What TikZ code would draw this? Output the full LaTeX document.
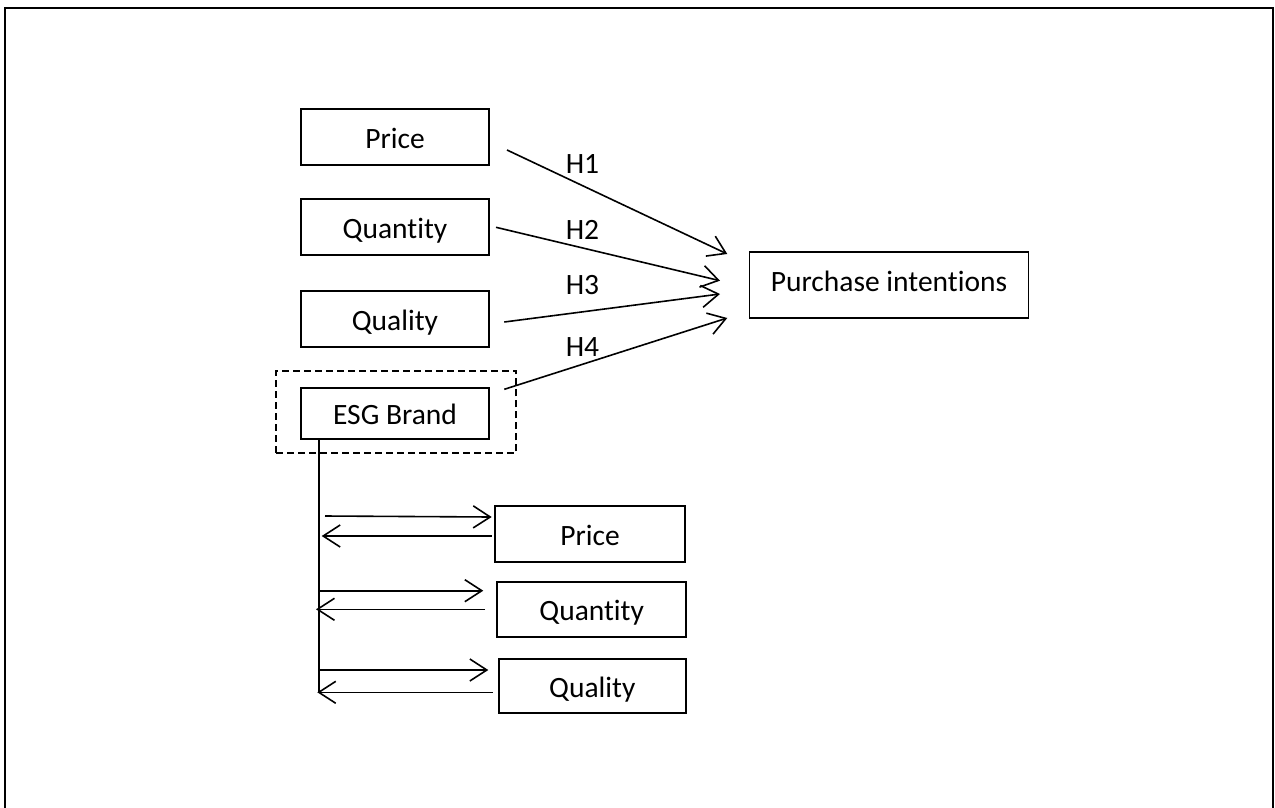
\documentclass[tikz,border=0pt]{standalone}
\usepackage{fontspec}
\setmainfont{Carlito}[Ligatures=NoCommon]
\usetikzlibrary{arrows.meta}
\begin{document}
\begin{tikzpicture}[x=1pt,y=-1pt,
  txt/.style={font=\fontsize{29.5}{35}\selectfont},
  box/.style={txt, draw, line width=1.8pt, minimum width=188pt, minimum height=56pt,
    inner sep=0pt, text height=22.6pt, text depth=0pt},
  link/.style={line width=1.6pt, -{Straight Barb[length=17pt,width=22pt,line width=1.6pt]}},
  hyp/.style={txt, anchor=base, inner sep=0pt}]
\useasboundingbox (0,0) rectangle (1275,807);
\clip (0,0) rectangle (1275,807);
% outer frame
\draw[line width=2.4pt] (5,8) rectangle (1273,830);

% independent variables
\node[box] (p1) at (395,137) {Price};
\node[box] (q1) at (395,227) {Quantity};
\node[box] (l1) at (395,319.3) {Quality};
\node[box, minimum height=51.6pt] (esg) at (395,413.5) {ESG Brand};
\node[draw, line width=2pt, dash pattern=on 7pt off 4pt,
      minimum width=240pt, minimum height=82.6pt] (grp) at (396,412) {};

% dependent variable
\node[box, minimum width=279pt, minimum height=66pt, text height=11.4pt] (pi) at (889,285.3) {Purchase intentions};

% moderated variables
\node[box, minimum width=190pt, minimum height=55.7pt] (p2) at (590,533.8) {Price};
\node[box, minimum width=188.7pt, minimum height=55.6pt] (q2) at (591.7,609.5) {Quantity};
\node[box, minimum width=187.3pt, minimum height=54.3pt] (l2) at (592.3,686.2) {Quality};

% hypothesis paths
\coordinate (h1s) at (507,150);   \coordinate (h1e) at (727.3,254);
\coordinate (h2s) at (496,227.3); \coordinate (h2e) at (720,280.7);
\coordinate (h3s) at (504.3,322); \coordinate (h3e) at (720,294);
\coordinate (h4s) at (504.3,389.3); \coordinate (h4e) at (727.3,318);
\draw[link] (h1s) -- (h1e);
\draw[link] (h2s) -- (h2e);
\draw[link] (h3s) -- (h3e);
\draw[link] (h4s) -- (h4e);
\node[hyp] (t1) at (582.5,173.3) {H1};
\node[hyp] (t2) at (582.5,239.3) {H2};
\node[hyp] (t3) at (582.5,294) {H3};
\node[hyp] (t4) at (582.5,356.7) {H4};

% interaction links from the ESG brand
\coordinate (v0) at (319,439.3);
\coordinate (v1) at (319,693);
\draw[line width=1.6pt] (v0) -- (v1);
\coordinate (r1s) at (325,516);   \coordinate (r1e) at (491.7,517);
\coordinate (b1s) at (491.7,536); \coordinate (b1e) at (321.7,536);
\coordinate (r2s) at (318,590.7); \coordinate (r2e) at (483.3,590.7);
\coordinate (b2s) at (485,609.3); \coordinate (b2e) at (316,609.3);
\coordinate (r3s) at (318,670);   \coordinate (r3e) at (488.3,670);
\coordinate (b3s) at (492.7,692.3); \coordinate (b3e) at (317.3,692.3);
\draw[link] (r1s) -- (r1e);
\draw[link] (b1s) -- (b1e);
\draw[link] (r2s) -- (r2e);
\draw[link] (b2s) -- (b2e);
\draw[link] (r3s) -- (r3e);
\draw[link] (b3s) -- (b3e);
\end{tikzpicture}
\end{document}
